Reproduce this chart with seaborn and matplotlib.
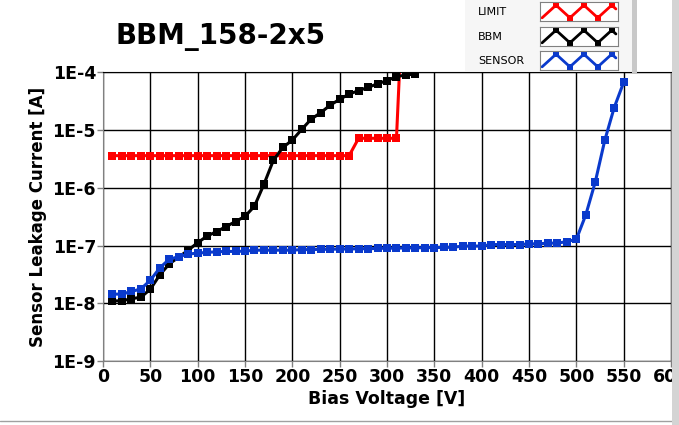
import numpy as np
import seaborn as sns
import matplotlib
matplotlib.use('Agg')
import matplotlib.pyplot as plt
from matplotlib.patches import Rectangle
from matplotlib.lines import Line2D
from matplotlib.ticker import FixedLocator, FuncFormatter, NullLocator

sns.set_style("white")
plt.rcParams['font.family'] = ['DejaVu Sans']
plt.rcParams['text.color'] = 'black'
plt.rcParams['axes.labelcolor'] = 'black'
plt.rcParams['xtick.labelcolor'] = 'black'
plt.rcParams['ytick.labelcolor'] = 'black'

# data
limit_v = [10, 20, 30, 40, 50, 60, 70, 80, 90, 100, 110, 120, 130, 140, 150, 160,
           170, 180, 190, 200, 210, 220, 230, 240, 250, 260,
           270, 280, 290, 300, 310, 320]
limit_i = [3.6e-6] * 26 + [7.2e-6] * 5 + [3e-2]

bbm_v = [10, 20, 30, 40, 50, 60, 70, 80, 90, 100, 110, 120, 130, 140, 150, 160,
         170, 180, 190, 200, 210, 220, 230, 240, 250, 260, 270, 280, 290, 300,
         310, 320, 330]
bbm_i = [1.1e-8, 1.1e-8, 1.2e-8, 1.27e-8, 1.75e-8, 3.1e-8, 4.8e-8, 6.3e-8, 8.3e-8,
         1.12e-7, 1.46e-7, 1.74e-7, 2.13e-7, 2.6e-7, 3.2e-7, 4.8e-7,
         1.15e-6, 3.0e-6, 5.0e-6, 6.7e-6, 1.03e-5, 1.55e-5, 2.0e-5, 2.7e-5,
         3.4e-5, 4.2e-5, 4.8e-5, 5.5e-5, 6.3e-5, 7.2e-5, 8.4e-5, 9.0e-5, 9.3e-5]

sensor_v = list(range(10, 560, 10))
sensor_i = [1.44e-8, 1.44e-8, 1.6e-8, 1.77e-8, 2.5e-8, 4.1e-8, 5.8e-8, 6.4e-8,
            7.1e-8, 7.4e-8, 7.6e-8, 7.8e-8, 7.9e-8, 7.9e-8, 8.0e-8, 8.3e-8,
            8.3e-8, 8.3e-8, 8.3e-8, 8.3e-8, 8.5e-8, 8.5e-8, 8.6e-8, 8.6e-8,
            8.7e-8, 8.7e-8, 8.8e-8, 8.8e-8, 8.9e-8, 9.0e-8, 9.0e-8, 9.1e-8,
            9.1e-8, 9.2e-8, 9.2e-8, 9.3e-8, 9.3e-8, 9.8e-8, 9.8e-8, 9.8e-8,
            1.04e-7, 1.04e-7, 1.04e-7, 1.04e-7, 1.07e-7, 1.07e-7, 1.1e-7, 1.1e-7,
            1.17e-7, 1.28e-7, 3.4e-7, 1.26e-6, 6.6e-6, 2.45e-5, 6.7e-5]

series = [("LIMIT", limit_v, limit_i, "#ff0000"),
          ("BBM", bbm_v, bbm_i, "#000000"),
          ("SENSOR", sensor_v, sensor_i, "#0a3acc")]

x_ticks = list(range(0, 650, 50))
y_ticks = [1e-9, 1e-8, 1e-7, 1e-6, 1e-5, 1e-4]

fig = plt.figure(figsize=(6.79, 4.25), dpi=100)
ax = fig.add_axes([103 / 679, 1 - 361 / 425, 568 / 679, 288.7 / 425])

for name, v, i, c in series:
    sns.lineplot(x=v, y=i, ax=ax, color=c, linewidth=2.2, marker="s",
                 markersize=5.5, markeredgewidth=0, estimator=None, sort=False)

ax.set_yscale("log")
ax.set_xlim(0, 600)
ax.set_ylim(1e-9, 1e-4)
ax.xaxis.set_major_locator(FixedLocator(x_ticks))
ax.yaxis.set_major_locator(FixedLocator(y_ticks))
ax.yaxis.set_minor_locator(NullLocator())
ax.yaxis.set_major_formatter(FuncFormatter(lambda y, p: "1E%d" % round(np.log10(y))))
ax.grid(True, color="black", linewidth=1)
ax.tick_params(axis="both", which="major", direction="out", length=4, width=1,
               color="#808080", labelsize=12.5, pad=1, left=True, bottom=True,
               labelcolor="black")
for lab in ax.get_xticklabels() + ax.get_yticklabels():
    lab.set_fontweight("bold")
for side in ["left", "bottom", "right"]:
    ax.spines[side].set_color("#808080")
ax.spines["top"].set_color("black")

ax.set_xlabel("Bias Voltage [V]", fontsize=12.5, fontweight="bold", labelpad=3,
              color="black")
ax.set_ylabel("Sensor Leakage Current [A]", fontsize=12, fontweight="bold",
              labelpad=4, color="black")

fig.text(115 / 679, 1 - 37 / 425, "BBM_158-2x5", fontsize=20, fontweight="bold",
         va="center", ha="left", color="black")

# legend panel
fig.patches.append(Rectangle((465 / 679, 1 - 71 / 425), 168 / 679, 71 / 425,
                             transform=fig.transFigure, facecolor="#f6f6f6",
                             edgecolor="none", zorder=5))
fig.patches.append(Rectangle((632 / 679, 1 - 73 / 425), 5 / 679, 73 / 425,
                             transform=fig.transFigure, facecolor="#c8c8c8",
                             edgecolor="none", zorder=5))
box_y = [2, 27, 51]
for (name, v, i, c), by in zip(series, box_y):
    fig.text(478 / 679, 1 - (by + 10) / 425, name, fontsize=8, va="center",
             ha="left", zorder=6, color="black")
    lax = fig.add_axes([540 / 679, 1 - (by + 19) / 425, 78 / 679, 19 / 425], zorder=6)
    lax.plot([0, 1, 2, 3, 4, 5, 5.3], [0, 1, 0, 1, 0, 1, 0.7], color=c, linewidth=2)
    lax.plot([1, 2, 3, 4, 5], [1, 0, 1, 0, 1], color=c, linestyle="none",
             marker="s", markersize=4.5, markeredgewidth=0)
    lax.set_xlim(-0.15, 5.45)
    lax.set_ylim(-0.25, 1.25)
    lax.set_xticks([])
    lax.set_yticks([])
    lax.set_facecolor("white")
    for s in lax.spines.values():
        s.set_color("#808080")

# window frame on right and bottom
fig.patches.append(Rectangle((672 / 679, 0), 7 / 679, 1, transform=fig.transFigure,
                             facecolor="#d4d4d4", edgecolor="none", zorder=10))
fig.lines.append(Line2D([0, 672 / 679], [1 - 421 / 425] * 2, transform=fig.transFigure,
                        color="#a0a0a0", linewidth=1, zorder=10))

fig.savefig("out.png", dpi=100)
